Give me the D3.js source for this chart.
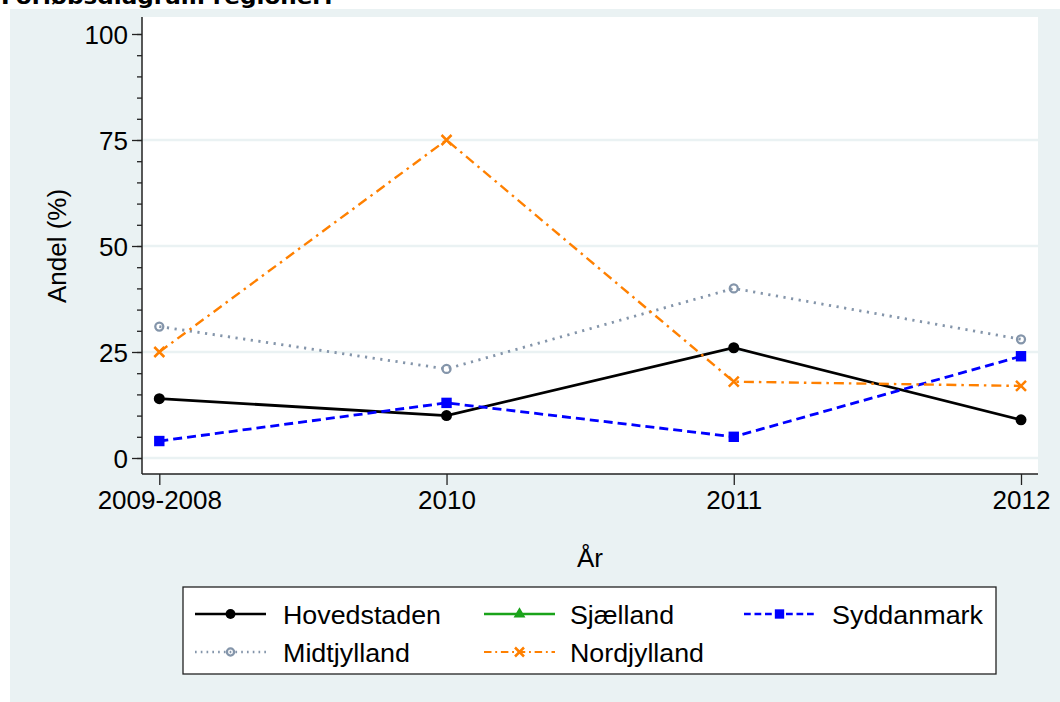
<!DOCTYPE html>
<html><head><meta charset="utf-8">
<script src="https://cdn.jsdelivr.net/npm/d3@7"></script>
<style>body{margin:0;background:#fff}svg{display:block;font-family:"Liberation Sans",Arial,sans-serif}</style>
</head><body>
<svg id="c" width="1060" height="702"></svg>
<script>
const categories = ["2009-2008", "2010", "2011", "2012"];
const seriesNames = ["Hovedstaden", "Sjælland", "Syddanmark", "Midtjylland", "Nordjylland"];
const hovedstaden = [14, 10, 26, 9];
const sjaelland = [null, null, null, null];
const syddanmark = [4, 13, 5, 24];
const midtjylland = [31, 21, 40, 28];
const nordjylland = [25, 75, 18, 17];
const yTicks = [0, 25, 50, 75, 100];
const yGrid = [0, 25, 50, 75];
const yMinorTicks = d3.range(0, 101, 5);
const titleText = "Forløbsdiagram regioner:";
const xTitle = "År";
const yTitle = "Andel (%)";

const styles = [
  {color:"#000000", dash:null, width:2.8, marker:"circle"},
  {color:"#1aa31a", dash:null, width:2.8, marker:"triangle"},
  {color:"#0000ff", dash:"9,5", width:2.8, marker:"square"},
  {color:"#8495aa", dash:"2.2,5.5", width:2.8, marker:"hollow"},
  {color:"#ff8000", dash:"10,5,2.5,5", width:2.4, marker:"x"}
];
const allData = [hovedstaden, sjaelland, syddanmark, midtjylland, nordjylland];

const svg = d3.select("#c");
const W = 1060, H = 702;
const plot = {l:142, r:1038, t:17, b:474};

svg.append("rect").attr("x",10).attr("y",9).attr("width",W-10).attr("height",H-9).attr("fill","#eaf2f3");
svg.append("text").attr("x",1).attr("y",4).attr("font-size",22).attr("font-weight","bold")
  .attr("font-family","'DejaVu Sans',sans-serif").attr("textLength",332).attr("lengthAdjust","spacingAndGlyphs")
  .text(titleText);
svg.append("rect").attr("x",plot.l).attr("y",plot.t).attr("width",plot.r-plot.l).attr("height",plot.b-plot.t).attr("fill","#fff");

const x = d3.scalePoint().domain(categories).range([159.3, 1021]);
const y = d3.scaleLinear().domain([0,100]).range([458, 34]);

svg.append("g").selectAll("line").data(yGrid).join("line")
  .attr("x1",plot.l).attr("x2",plot.r).attr("y1",d=>y(d)).attr("y2",d=>y(d))
  .attr("stroke","#eaf2f3").attr("stroke-width",2.6);

const yAxisG = svg.append("g").attr("transform",`translate(${plot.l},0)`);
yAxisG.call(d3.axisLeft(y).tickValues(yMinorTicks).tickSize(5).tickFormat(""));
yAxisG.select(".domain").remove();
const yAxisMaj = svg.append("g").attr("transform",`translate(${plot.l},0)`)
  .call(d3.axisLeft(y).tickValues(yTicks).tickSize(10).tickPadding(4).tickFormat(d3.format("d")));
yAxisMaj.select(".domain").remove();
yAxisMaj.selectAll("text").attr("font-size",26).attr("font-family","'Liberation Sans',Arial,sans-serif").attr("fill","#000").attr("dy","0.35em");
svg.selectAll(".tick line").attr("stroke","#222").attr("stroke-width",1.3);
svg.append("line").attr("x1",plot.l).attr("x2",plot.l).attr("y1",plot.t).attr("y2",plot.b).attr("stroke","#222").attr("stroke-width",1.5);

const xAxisG = svg.append("g").attr("transform",`translate(0,${plot.b})`)
  .call(d3.axisBottom(x).tickSize(11).tickPadding(6));
xAxisG.select(".domain").remove();
xAxisG.selectAll("line").attr("stroke","#222").attr("stroke-width",1.3);
xAxisG.selectAll("text").attr("font-size",26).attr("font-family","'Liberation Sans',Arial,sans-serif").attr("fill","#000");
svg.append("line").attr("x1",plot.l).attr("x2",plot.r).attr("y1",plot.b).attr("y2",plot.b).attr("stroke","#222").attr("stroke-width",1.5);

svg.append("text").attr("x",(plot.l+plot.r)/2 ).attr("y",567).attr("text-anchor","middle").attr("font-size",26).text(xTitle);
svg.append("text").attr("transform","translate(66,246) rotate(-90)").attr("text-anchor","middle").attr("font-size",26).text(yTitle);

function drawMarker(g, type, cx, cy, color, scale){
  const s = scale||1;
  if(type==="circle") g.append("circle").attr("cx",cx).attr("cy",cy).attr("r",5.5*s).attr("fill",color);
  else if(type==="hollow") g.append("circle").attr("cx",cx).attr("cy",cy).attr("r",4*s).attr("fill","none").attr("stroke",color).attr("stroke-width",2.3);
  else if(type==="square") g.append("rect").attr("x",cx-5.2*s).attr("y",cy-5.2*s).attr("width",10.4*s).attr("height",10.4*s).attr("fill",color);
  else if(type==="triangle") g.append("path").attr("d",d3.symbol(d3.symbolTriangle,75*s*s)()).attr("transform",`translate(${cx},${cy})`).attr("fill",color);
  else if(type==="x"){ const r=5*s;
    g.append("path").attr("d",`M${cx-r},${cy-r}L${cx+r},${cy+r}M${cx-r},${cy+r}L${cx+r},${cy-r}`).attr("stroke",color).attr("stroke-width",2.5);
  }
}

const line = d3.line().defined(d=>d.v!=null).x(d=>x(d.c)).y(d=>y(d.v));
allData.forEach((vals,i)=>{
  const st = styles[i];
  const pts = categories.map((c,j)=>({c, v:vals[j]}));
  const g = svg.append("g");
  g.append("path").datum(pts).attr("d",line).attr("fill","none").attr("stroke",st.color)
    .attr("stroke-width",st.width).attr("stroke-dasharray",st.dash);
  pts.filter(p=>p.v!=null).forEach(p=>drawMarker(g, st.marker, x(p.c), y(p.v), st.color, 1));
});

const lg = svg.append("g");
lg.append("rect").attr("x",183).attr("y",587).attr("width",813).attr("height",87).attr("fill","#fff").attr("stroke","#222").attr("stroke-width",1.3);
const legPos = [
  {lx:195, tx:283, y:614},
  {lx:484, tx:570, y:614},
  {lx:744, tx:832, y:614},
  {lx:195, tx:283, y:652},
  {lx:484, tx:570, y:652}
];
const legLens = [158, 104, 151, 127, 134];
seriesNames.forEach((name,i)=>{
  const p = legPos[i], st = styles[i];
  lg.append("line").attr("x1",p.lx).attr("x2",p.lx+71).attr("y1",p.y).attr("y2",p.y)
    .attr("stroke",st.color).attr("stroke-width",st.width*0.9).attr("stroke-dasharray",st.dash?st.dash.split(",").map(v=>v*0.75).join(","):null);
  drawMarker(lg, st.marker, p.lx+35.5, p.y, st.color, 0.9);
  lg.append("text").attr("x",p.tx).attr("y",p.y+9.5).attr("font-size",26)
    .attr("textLength",legLens[i]).attr("lengthAdjust","spacingAndGlyphs").text(name);
});
</script>
</body></html>
